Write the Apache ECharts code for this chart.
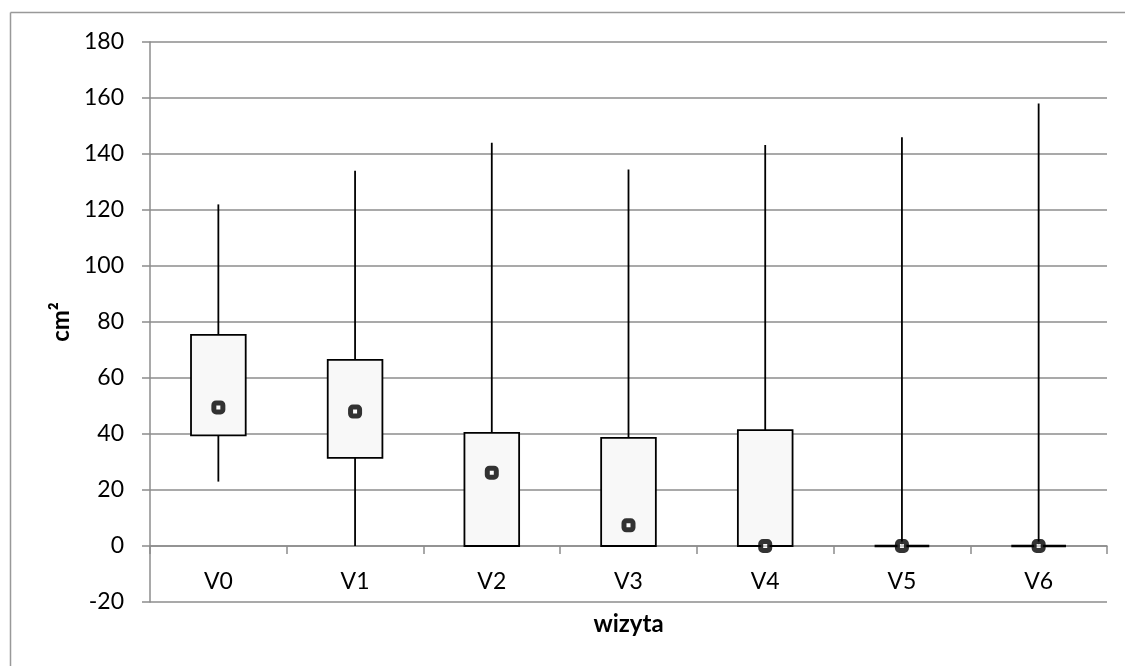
<!DOCTYPE html>
<html>
<head>
<meta charset="utf-8">
<style>
  html, body { margin: 0; padding: 0; background: #fff; }
  #chart { width: 1125px; height: 666px; }
</style>
<script src="https://cdn.jsdelivr.net/npm/echarts@6/dist/echarts.min.js"></script>
</head>
<body>
<div id="chart"></div>
<script>
// Visits and the five-number summary of the area (cm²) at each visit
const visits = ['V0', 'V1', 'V2', 'V3', 'V4', 'V5', 'V6'];
const minValues = [23, 0, 0, 0, 0, 0, 0];
const q1Values = [39.5, 31.5, 0, 0, 0, 0, 0];
const centerValues = [49.5, 48, 26.2, 7.4, 0, 0, 0];
const q3Values = [75.4, 66.5, 40.4, 38.6, 41.4, 0, 0];
const maxValues = [122, 134, 144, 134.5, 143.2, 146, 158];
const yTicks = { min: -20, max: 180, step: 20 };

const FONT = 'Lato, "Open Sans", sans-serif';
const GRID = '#8c8c8c';

const boxData = visits.map((v, i) => [i, minValues[i], q1Values[i], q3Values[i], maxValues[i]]);
const centerData = visits.map((v, i) => [i, centerValues[i]]);

const chart = echarts.init(document.getElementById('chart'), null, { renderer: 'canvas' });

chart.setOption({
  backgroundColor: '#ffffff',
  animation: false,
  graphic: [
    // chart frame (top and left edges)
    { type: 'line', shape: { x1: 10.5, y1: 12.5, x2: 1125, y2: 12.5 }, style: { stroke: '#999', lineWidth: 1.5 }, silent: true },
    { type: 'line', shape: { x1: 10.5, y1: 12.5, x2: 10.5, y2: 666 }, style: { stroke: '#999', lineWidth: 1.5 }, silent: true }
  ],
  grid: { left: 150, right: 18, top: 42, bottom: 64, containLabel: false, outerBoundsMode: 'none' },
  xAxis: {
    type: 'category',
    data: visits,
    boundaryGap: true,
    name: 'wizyta',
    nameLocation: 'middle',
    nameGap: 10,
    nameMoveOverlap: false,
    nameTextStyle: { fontFamily: FONT, fontSize: 24, fontWeight: 'bold', color: '#000' },
    axisLine: { onZero: true, lineStyle: { color: GRID, width: 1.5 } },
    axisTick: { show: true, alignWithLabel: false, inside: false, length: 8, lineStyle: { color: GRID, width: 1.5 } },
    // labels sit between the zero line and the -20 gridline
    axisLabel: { fontFamily: FONT, fontSize: 23, color: '#000', margin: -32 },
    splitLine: { show: false }
  },
  yAxis: {
    type: 'value',
    min: yTicks.min,
    max: yTicks.max,
    interval: yTicks.step,
    name: 'cm²',
    nameLocation: 'middle',
    nameGap: 74,
    nameRotate: 90,
    nameTextStyle: { fontFamily: FONT, fontSize: 24, fontWeight: 'bold', color: '#000' },
    axisLine: { show: true, onZero: false, lineStyle: { color: GRID, width: 1.5 } },
    axisTick: { show: true, length: 8, lineStyle: { color: GRID, width: 1.5 } },
    axisLabel: { fontFamily: FONT, fontSize: 23, color: '#000', margin: 26 },
    splitLine: { show: true, lineStyle: { color: GRID, width: 1.5 } }
  },
  series: [
    {
      type: 'custom',
      name: 'box',
      data: boxData,
      encode: { x: 0, y: [1, 2, 3, 4] },
      z: 3,
      renderItem: function (params, api) {
        const idx = api.value(0);
        const pMin = api.coord([idx, api.value(1)]);
        const pQ1 = api.coord([idx, api.value(2)]);
        const pQ3 = api.coord([idx, api.value(3)]);
        const pMax = api.coord([idx, api.value(4)]);
        const bw = api.size([1, 0])[0] * 0.4;
        const x = pMin[0];
        const children = [
          { type: 'line', shape: { x1: x, y1: pMax[1], x2: x, y2: pQ3[1] }, style: { stroke: '#000', lineWidth: 1.8 } },
          { type: 'line', shape: { x1: x, y1: pQ1[1], x2: x, y2: pMin[1] }, style: { stroke: '#000', lineWidth: 1.8 } }
        ];
        const h = pQ1[1] - pQ3[1];
        if (h > 0.5) {
          children.push({ type: 'rect', shape: { x: x - bw / 2, y: pQ3[1], width: bw, height: h },
            style: { fill: '#f8f8f8', stroke: '#000', lineWidth: 1.8 } });
        } else {
          children.push({ type: 'line', shape: { x1: x - bw / 2, y1: pQ1[1], x2: x + bw / 2, y2: pQ1[1] },
            style: { stroke: '#000', lineWidth: 2.5 } });
        }
        return { type: 'group', children: children };
      }
    },
    {
      type: 'scatter',
      name: 'center',
      data: centerData,
      z: 4,
      symbol: 'roundRect',
      symbolSize: 9,
      itemStyle: { color: '#ffffff', borderColor: '#000', borderWidth: 5 }
    }
  ]
});
</script>
</body>
</html>
